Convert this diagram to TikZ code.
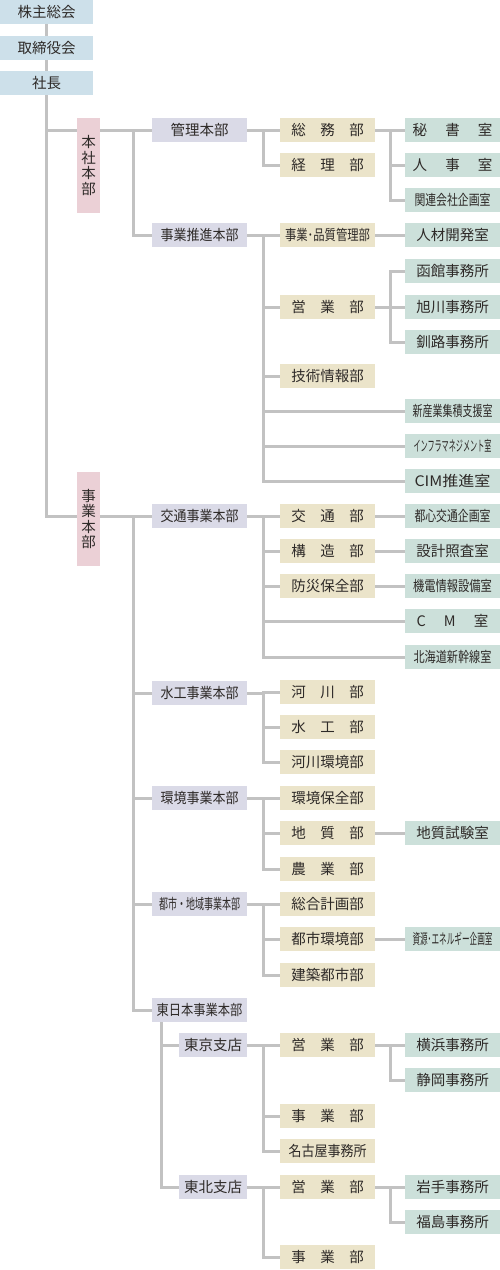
\documentclass[tikz,border=0pt]{standalone}
\usepackage{fontspec}
\setmainfont{Noto Sans CJK JP}
\usepackage{graphicx}
\usepackage{xcolor}
\usepackage{tikz}
\usetikzlibrary{backgrounds}

\definecolor{topblue}{HTML}{CDE0EA}
\definecolor{hqpink}{HTML}{EBD0D6}
\definecolor{divlav}{HTML}{DADAE7}
\definecolor{deptbeige}{HTML}{EBE4CA}
\definecolor{roomteal}{HTML}{CCE0DA}
\definecolor{linegray}{HTML}{C2C2C2}
\definecolor{ink}{HTML}{2E2A28}

\newcommand{\sqz}[2]{\resizebox{#1pt}{\height}{#2}}
\newcommand{\spr}[3]{#1\hspace{1.25em}#2\hspace{1.25em}#3}

\begin{document}
\begin{tikzpicture}[
  x=1pt, y=-1pt,
  font=\fontsize{14.5}{17}\selectfont,
  box/.style={inner sep=0pt, minimum height=24pt, text=ink},
  topbox/.style={box, fill=topblue, minimum width=93pt},
  hqbox/.style={box, fill=hqpink, minimum width=23pt, align=center,
                font=\fontsize{14.5}{15.5}\selectfont},
  divbox/.style={box, fill=divlav, minimum width=95pt},
  brbox/.style={box, fill=divlav, minimum width=68pt},
  deptbox/.style={box, fill=deptbeige, minimum width=95pt},
  roombox/.style={box, fill=roomteal, minimum width=95pt},
  ln/.style={draw=linegray, line width=3pt}
]
\useasboundingbox (0,0) rectangle (500,1270);

\node[topbox] (kabu) at (46.5,12) {株主総会};
\node[topbox] (torishimari) at (46.5,48) {取締役会};
\node[topbox] (shacho) at (46.5,83) {社長};

\node[hqbox, minimum height=95pt] (honsha) at (88.5,165.5) {本\\社\\本\\部};
\node[hqbox, minimum height=94pt] (jigyohq) at (88.5,519) {事\\業\\本\\部};

\node[divbox] (kanri) at (199.5,130) {管理本部};
\node[divbox] (suishin) at (199.5,235) {\sqz{78}{事業推進本部}};
\node[divbox] (kotsu) at (199.5,516) {\sqz{78}{交通事業本部}};
\node[divbox] (suiko) at (199.5,693) {\sqz{78}{水工事業本部}};
\node[divbox] (kankyo) at (199.5,798) {\sqz{78}{環境事業本部}};
\node[divbox] (toshi) at (199.5,904) {\sqz{81}{都市・地域事業本部}};
\node[divbox] (higashi) at (199.5,1010) {\sqz{86}{東日本事業本部}};
\node[brbox] (tokyo) at (213,1045) {東京支店};
\node[brbox] (tohoku) at (213,1187) {東北支店};

\node[deptbox] (somu) at (327.5,130) {総　務　部};
\node[deptbox] (keiri) at (327.5,165) {経　理　部};
\node[deptbox] (hinshitsu) at (327.5,235) {\sqz{85}{事業･品質管理部}};
\node[deptbox] (eigyo) at (327.5,307) {営　業　部};
\node[deptbox] (gijutsu) at (327.5,376) {技術情報部};
\node[deptbox] (kotsubu) at (327.5,516) {交　通　部};
\node[deptbox] (kozo) at (327.5,551) {構　造　部};
\node[deptbox] (bosai) at (327.5,586) {防災保全部};
\node[deptbox] (kasen) at (327.5,692) {河　川　部};
\node[deptbox] (suikobu) at (327.5,727) {水　工　部};
\node[deptbox] (kasenkankyo) at (327.5,762) {河川環境部};
\node[deptbox] (hozen) at (327.5,798) {環境保全部};
\node[deptbox] (chishitsu) at (327.5,833) {地　質　部};
\node[deptbox] (nogyo) at (327.5,869) {農　業　部};
\node[deptbox] (sogo) at (327.5,904) {総合計画部};
\node[deptbox] (toshikankyo) at (327.5,939) {都市環境部};
\node[deptbox] (kenchiku) at (327.5,975) {建築都市部};
\node[deptbox] (tkeigyo) at (327.5,1045) {営　業　部};
\node[deptbox] (tkjigyo) at (327.5,1116) {事　業　部};
\node[deptbox] (nagoya) at (327.5,1151) {\sqz{78}{名古屋事務所}};
\node[deptbox] (thkeigyo) at (327.5,1187) {営　業　部};
\node[deptbox] (thkjigyo) at (327.5,1257) {事　業　部};

\node[roombox] (hisho) at (452.5,130) {\spr{秘}{書}{室}};
\node[roombox] (jinji) at (452.5,165) {\spr{人}{事}{室}};
\node[roombox] (kanren) at (452.5,200) {\sqz{76}{関連会社企画室}};
\node[roombox] (jinzai) at (452.5,235) {人材開発室};
\node[roombox] (hakodate) at (452.5,271) {函館事務所};
\node[roombox] (asahikawa) at (452.5,307) {旭川事務所};
\node[roombox] (kushiro) at (452.5,342) {釧路事務所};
\node[roombox] (shinsangyo) at (452.5,411) {\sqz{80}{新産業集積支援室}};
\node[roombox] (infra) at (452.5,446) {\sqz{78}{インフラマネジメント室}};
\node[roombox] (cim) at (452.5,481) {\sqz{76}{CIM推進室}};
\node[roombox] (toshin) at (452.5,516) {\sqz{76}{都心交通企画室}};
\node[roombox] (sekkei) at (452.5,551) {設計照査室};
\node[roombox] (kiden) at (452.5,586) {\sqz{79}{機電情報設備室}};
\node[roombox] (cm) at (452.5,621) {\spr{C}{M}{室}};
\node[roombox] (shinkansen) at (452.5,657) {\sqz{78}{北海道新幹線室}};
\node[roombox] (chishitsushiken) at (452.5,833) {地質試験室};
\node[roombox] (shigen) at (452.5,939) {\sqz{80}{資源･エネルギー企画室}};
\node[roombox] (yokohama) at (452.5,1045) {横浜事務所};
\node[roombox] (shizuoka) at (452.5,1080) {静岡事務所};
\node[roombox] (iwate) at (452.5,1187) {岩手事務所};
\node[roombox] (fukushima) at (452.5,1222) {福島事務所};

\begin{scope}[on background layer]
\draw[ln] (kabu) -- (torishimari);
\draw[ln] (torishimari) -- (shacho);
\draw[ln] (shacho.south) |- (kanri.west);
\draw[ln] (shacho.south) |- (kotsu.west);
\draw[ln] (kanri.west) -- ++(-18,0) |- (suishin.west);
\foreach \c in {suiko,kankyo,toshi,higashi}
  \draw[ln] (kotsu.west) -- ++(-18,0) |- (\c.west);
\foreach \c in {tokyo,tohoku}
  \draw[ln] ([xshift=10pt]higashi.south west) |- (\c.west);

\foreach \p/\c in {kanri/somu, kanri/keiri,
    suishin/hinshitsu, suishin/eigyo, suishin/gijutsu,
    suishin/shinsangyo, suishin/infra, suishin/cim,
    kotsu/kotsubu, kotsu/kozo, kotsu/bosai, kotsu/cm, kotsu/shinkansen,
    suiko/kasen, suiko/suikobu, suiko/kasenkankyo,
    kankyo/hozen, kankyo/chishitsu, kankyo/nogyo,
    toshi/sogo, toshi/toshikankyo, toshi/kenchiku,
    tokyo/tkeigyo, tokyo/tkjigyo, tokyo/nagoya,
    tohoku/thkeigyo, tohoku/thkjigyo}
  \draw[ln] (\p.east) -- ++(16,0) |- (\c.west);

\foreach \p/\c in {somu/hisho, somu/jinji, somu/kanren,
    hinshitsu/jinzai,
    eigyo/hakodate, eigyo/asahikawa, eigyo/kushiro,
    kotsubu/toshin, kozo/sekkei, bosai/kiden,
    chishitsu/chishitsushiken, toshikankyo/shigen,
    tkeigyo/yokohama, tkeigyo/shizuoka,
    thkeigyo/iwate, thkeigyo/fukushima}
  \draw[ln] (\p.east) -- ++(15,0) |- (\c.west);
\end{scope}
\end{tikzpicture}
\end{document}
